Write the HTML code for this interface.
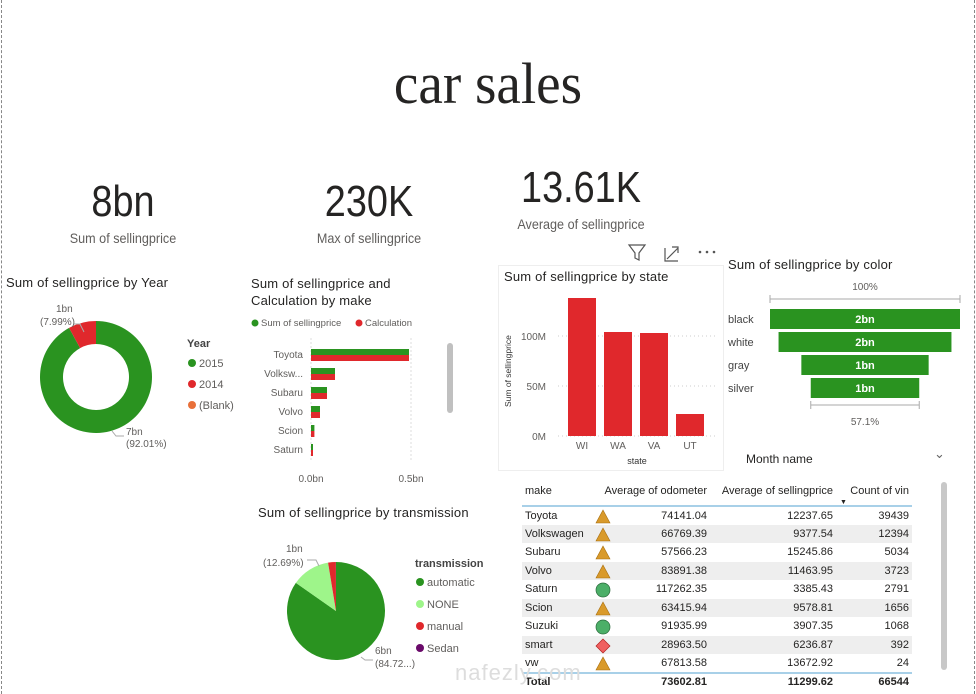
<!DOCTYPE html>
<html><head><meta charset="utf-8">
<style>
*{box-sizing:border-box;margin:0;padding:0}
body{width:976px;height:694px;overflow:hidden;background:#fff;font-family:"Liberation Sans",sans-serif;color:#252423;position:relative}
.abs{position:absolute}
.frame{left:1px;top:0;width:974px;height:694px;border-left:1px dashed #888;border-right:1px dashed #888}
.kpi{text-align:center;width:200px}
.kv{font-size:44px;color:#252423;line-height:1;transform:scaleX(0.86)}
.kl{font-size:14px;color:#605e5c;margin-top:6px;transform:scaleX(0.9)}
.ttl{font-size:13px;color:#252423;letter-spacing:.2px}
svg text{font-family:"Liberation Sans",sans-serif}
table{border-collapse:collapse;font-size:11px}
td,th{padding:0 3px;height:18.5px;white-space:nowrap}
th{font-weight:normal;text-align:right;height:30px}
</style></head><body>
<div class="abs frame"></div>
<div class="abs" style="left:0;width:976px;top:50px;text-align:center;font-family:'Liberation Serif',serif;font-size:58px;color:#252423;transform:scaleX(0.95)">car sales</div>

<div class="abs kpi" style="left:23px;top:180px"><div class="kv">8bn</div><div class="kl">Sum of sellingprice</div></div>
<div class="abs kpi" style="left:269px;top:180px"><div class="kv">230K</div><div class="kl">Max of sellingprice</div></div>
<div class="abs kpi" style="left:481px;top:166px"><div class="kv">13.61K</div><div class="kl">Average of sellingprice</div></div>

<!-- donut by year -->
<div class="abs ttl" style="left:6px;top:275px">Sum of sellingprice by Year</div>
<svg class="abs" style="left:0;top:290px" width="245" height="170" id="donut"></svg>

<!-- make bars -->
<div class="abs ttl" style="left:251px;top:275px;line-height:17px">Sum of sellingprice and<br>Calculation by make</div>
<svg class="abs" style="left:245px;top:310px" width="215" height="175" id="makebars"></svg>

<!-- state bars -->
<div class="abs" style="left:498px;top:265px;width:226px;height:206px;border:1px solid #eee;background:#fff"></div>
<svg class="abs" style="left:625px;top:242px" width="100" height="22">
<g fill="none" stroke="#555" stroke-width="1.2"><path d="M4 3h16l-6 8v7l-4-2v-5z"/></g>
<g fill="none" stroke="#555" stroke-width="1.2"><path d="M40 6v13h13M42 17l11-11M47 5h6v6"/></g>
<g fill="#555"><circle cx="75" cy="10" r="1.3"/><circle cx="82" cy="10" r="1.3"/><circle cx="89" cy="10" r="1.3"/></g>
</svg>
<div class="abs ttl" style="left:504px;top:269px">Sum of sellingprice by state</div>
<svg class="abs" style="left:498px;top:285px" width="226" height="185" id="statebars"></svg>

<!-- funnel -->
<div class="abs ttl" style="left:728px;top:257px">Sum of sellingprice by color</div>
<svg class="abs" style="left:724px;top:275px" width="250" height="160" id="funnel"></svg>

<!-- slicer -->
<div class="abs" style="left:746px;top:452px;font-size:12px">Month name</div>
<div class="abs" style="left:934px;top:446px;font-size:13px;color:#666">&#8964;</div>

<!-- pie transmission -->
<div class="abs ttl" style="left:258px;top:505px">Sum of sellingprice by transmission</div>
<svg class="abs" style="left:250px;top:525px" width="250" height="169" id="pie"></svg>

<!-- table -->
<div class="abs" style="left:522px;top:476px;width:392px">
<table style="width:390px" id="tbl">
<thead><tr style="border-bottom:2px solid #a8d0e8">
<th style="text-align:left;width:68px">make</th>
<th style="width:120px;text-align:right">Average of odometer</th>
<th style="width:126px">Average of sellingprice</th>
<th style="width:76px;position:relative">Count of vin<span style="position:absolute;left:4px;bottom:-1px;font-size:7px">&#9660;</span></th>
</tr></thead><tbody id="tbody"></tbody>
<tfoot><tr style="border-top:2px solid #a8d0e8;font-weight:bold"><td style="text-align:left">Total</td><td style="text-align:right">73602.81</td><td style="text-align:right">11299.62</td><td style="text-align:right">66544</td></tr></tfoot>
</table></div>
<div class="abs" style="left:941px;top:482px;width:6px;height:188px;background:#c8c8c8;border-radius:3px"></div>
<div class="abs" style="left:447px;top:343px;width:6px;height:70px;background:#c0c0c0;border-radius:3px"></div>
<div class="abs" style="left:455px;top:660px;font-size:22px;color:#ddd;letter-spacing:1px">nafezly.com</div>

<script>
const NS="http://www.w3.org/2000/svg";
function mk(p,t,a){const e=document.createElementNS(NS,t);for(const k in a)e.setAttribute(k,a[k]);p.appendChild(e);return e;}
function txt(p,x,y,s,o){const e=mk(p,'text',Object.assign({x:x,y:y,'font-size':10,fill:'#605e5c'},o||{}));e.textContent=s;return e;}
function arc(cx,cy,r,r0,a0,a1){const p=(a,rr)=>[cx+rr*Math.sin(a),cy-rr*Math.cos(a)];const l=(a1-a0)>Math.PI?1:0;const[a,b]=p(a0,r),[c,d]=p(a1,r);
 if(r0===0)return `M${cx},${cy}L${a},${b}A${r},${r} 0 ${l} 1 ${c},${d}Z`;const[e,f]=p(a1,r0),[g,h]=p(a0,r0);
 return `M${a},${b}A${r},${r} 0 ${l} 1 ${c},${d}L${e},${f}A${r0},${r0} 0 ${l} 0 ${g},${h}Z`;}

// ---- Year donut data
const yearCats=["2015","2014","(Blank)"];
const yearVals=[92.01,7.99,0];
const yearColors=["#2a9320","#e0282c","#e8703a"];
(function(){const s=document.getElementById('donut');let a=0;const tot=yearVals.reduce((x,y)=>x+y,0);
 yearVals.forEach((v,i)=>{if(v<=0)return;const b=a+v/tot*2*Math.PI;const p=mk(s,'path',{d:arc(96,87,56,33,a,b),fill:yearColors[i]});
 a=b;});
 mk(s,'path',{d:'M74,34 l6,0 l4,8',fill:'none',stroke:'#aaa'});
 txt(s,56,22,'1bn');txt(s,40,35,'(7.99%)');
 mk(s,'path',{d:'M112,141 l4,5 l8,0',fill:'none',stroke:'#aaa'});
 txt(s,126,145,'7bn');txt(s,126,157,'(92.01%)');
 txt(s,187,57,'Year',{'font-weight':'bold',fill:'#444','font-size':11});
 yearCats.forEach((c,i)=>{const g=mk(s,'g',{});
  mk(g,'circle',{cx:192,cy:73+i*21,r:4,fill:yearColors[i]});txt(g,199,77+i*21,c,{'font-size':11});});
})();

// ---- Make bars
const makeCats=["Toyota","Volksw...","Subaru","Volvo","Scion","Saturn"];
const makeSum=[0.49,0.12,0.08,0.045,0.017,0.01];
const makeCalc=[0.49,0.12,0.08,0.045,0.017,0.01];
const makeTicks=[0,0.5];const makeTickLbl=["0.0bn","0.5bn"];
(function(){const s=document.getElementById('makebars');const X=v=>66+v*200;
 const g1=mk(s,'g',{});mk(g1,'circle',{cx:10,cy:13,r:3.5,fill:'#2a9320'});txt(g1,16,16,'Sum of sellingprice',{'font-size':9.5});
 
 const g2=mk(s,'g',{});mk(g2,'circle',{cx:114,cy:13,r:3.5,fill:'#e0282c'});txt(g2,120,16,'Calculation',{'font-size':9.5});
 
 makeTicks.forEach((t,i)=>{mk(s,'line',{x1:X(t),x2:X(t),y1:28,y2:152,stroke:'#ddd','stroke-dasharray':'2,2'});txt(s,X(t),172,makeTickLbl[i],{'text-anchor':'middle',fill:'#605e5c'});});
 makeCats.forEach((c,i)=>{const y=39+i*19;txt(s,58,y+9,c,{'text-anchor':'end','font-size':10});
  const a=mk(s,'rect',{x:X(0),y:y,width:X(makeSum[i])-X(0),height:6,fill:'#2a9320'});
  const b=mk(s,'rect',{x:X(0),y:y+6,width:X(makeCalc[i])-X(0),height:6,fill:'#e0282c'});});
})();

// ---- State bars
const stateCats=["WI","WA","VA","UT"];
const stateVals=[138,104,103,22];
const stateTicks=[0,50,100];const stateTickLbl=["0M","50M","100M"];
(function(){const s=document.getElementById('statebars');const Y=v=>151-v*1.0;
 stateTicks.forEach((t,i)=>{mk(s,'line',{x1:60,x2:220,y1:Y(t),y2:Y(t),stroke:'#ccc','stroke-dasharray':'1,3'});txt(s,48,Y(t)+4,stateTickLbl[i],{'text-anchor':'end'});});
 const yl=txt(s,0,0,'Sum of sellingprice',{'font-size':8.5,fill:'#333',transform:'translate(13,122) rotate(-90)'});
 stateCats.forEach((c,i)=>{const x=70+i*36;const r=mk(s,'rect',{x:x,y:Y(stateVals[i]),width:28,height:Y(0)-Y(stateVals[i]),fill:'#e0282c'});
  txt(s,x+14,164,c,{'text-anchor':'middle'});});
 txt(s,139,179,'state',{'text-anchor':'middle','font-size':9,fill:'#333'});
})();

// ---- Funnel
const colorCats=["black","white","gray","silver"];
const colorPct=[100,91,67,57.1];
const colorLbl=["2bn","2bn","1bn","1bn"];
(function(){const s=document.getElementById('funnel');const cx=141,W=v=>v*1.9;
 txt(s,cx,15,'100%',{'text-anchor':'middle'});
 mk(s,'path',{d:`M${cx-W(100)/2},20v8M${cx-W(100)/2},24H${cx+W(100)/2}M${cx+W(100)/2},20v8`,stroke:'#aaa',fill:'none'});
 colorCats.forEach((c,i)=>{const y=34+i*23,w=W(colorPct[i]);const r=mk(s,'rect',{x:cx-w/2,y:y,width:w,height:20,fill:'#2a9320'});
  
  txt(s,cx,y+14,colorLbl[i],{'text-anchor':'middle',fill:'#fff','font-size':11,'font-weight':'bold'});txt(s,4,y+14,c,{'font-size':11,fill:'#444'});});
 const w=W(colorPct[3]);mk(s,'path',{d:`M${cx-w/2},126v8M${cx-w/2},130H${cx+w/2}M${cx+w/2},126v8`,stroke:'#aaa',fill:'none'});
 txt(s,cx,150,colorPct[3]+'%',{'text-anchor':'middle'});
})();

// ---- Transmission pie
const transCats=["automatic","NONE","manual","Sedan"];
const transVals=[84.72,12.69,2.55,0.04];
const transColors=["#2a9320","#9ef58a","#e0282c","#6a0a6a"];
(function(){const s=document.getElementById('pie');let a=0;const tot=transVals.reduce((x,y)=>x+y,0);
 transVals.forEach((v,i)=>{const b=a+v/tot*2*Math.PI;const p=mk(s,'path',{d:arc(86,86,49,0,a,b),fill:transColors[i]});
  a=b;});
 mk(s,'path',{d:'M57,35 l9,0 l3,6',fill:'none',stroke:'#aaa'});txt(s,36,27,'1bn');txt(s,13,41,'(12.69%)');
 mk(s,'path',{d:'M111,132 l4,3 l8,0',fill:'none',stroke:'#aaa'});txt(s,125,129,'6bn');txt(s,125,142,'(84.72...)');
 txt(s,165,42,'transmission',{'font-weight':'bold',fill:'#444','font-size':11});
 transCats.forEach((c,i)=>{const g=mk(s,'g',{});
  mk(g,'circle',{cx:170,cy:57+i*22,r:4,fill:transColors[i]});txt(g,177,61+i*22,c,{'font-size':11});});
})();

// ---- Table
const tMakes=["Toyota","Volkswagen","Subaru","Volvo","Saturn","Scion","Suzuki","smart","vw"];
const tOdo=["74141.04","66769.39","57566.23","83891.38","117262.35","63415.94","91935.99","28963.50","67813.58"];
const tPrice=["12237.65","9377.54","15245.86","11463.95","3385.43","9578.81","3907.35","6236.87","13672.92"];
const tCount=["39439","12394","5034","3723","2791","1656","1068","392","24"];
const tIcon=["t","t","t","t","c","t","c","d","t"];
(function(){const tb=document.getElementById('tbody');
 const ic={t:'<svg width="16" height="15"><path d="M8 1L15 14H1Z" fill="#d99a2b" stroke="#a86f10" stroke-width=".6"/></svg>',
 c:'<svg width="16" height="16"><circle cx="8" cy="8" r="7" fill="#4caf68" stroke="#2b6b3c" stroke-width=".7"/></svg>',
 d:'<svg width="16" height="16"><path d="M8 1L15 8L8 15L1 8Z" fill="#f06060" stroke="#b02020" stroke-width=".7"/></svg>'};
 tMakes.forEach((m,i)=>{const tr=document.createElement('tr');
  
  
  if(i%2===1)tr.style.background='#eeeeee';
  tr.innerHTML=`<td style="text-align:left">${m}</td><td style="text-align:right;position:relative"><span style="position:absolute;left:5px;top:2px">${ic[tIcon[i]]}</span>${tOdo[i]}</td><td style="text-align:right">${tPrice[i]}</td><td style="text-align:right">${tCount[i]}</td>`;
  tb.appendChild(tr);});
})();
</script>
</body></html>
